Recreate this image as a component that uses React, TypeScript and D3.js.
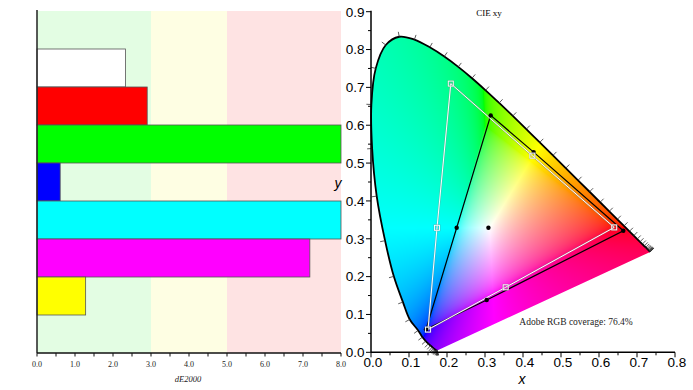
import React, { useMemo } from "react";
import * as d3 from "d3";

// ---- left panel: dE2000 per colour patch ----
const barNames = ["White", "Red", "Green", "Blue", "Cyan", "Magenta", "Yellow"];
const barValues = [2.33, 2.9, 8.0, 0.61, 8.0, 7.18, 1.28];
const barColors = ["#ffffff", "#ff0000", "#00ff00", "#0000ff", "#00ffff", "#ff00ff", "#ffff00"];
const dETicks = [0, 1, 2, 3, 4, 5, 6, 7, 8];
const zoneStarts = [0, 3, 5];
const zoneEnds = [3, 5, 8];
const zoneColors = ["#e3fde3", "#fefee3", "#fee3e3"];

// ---- right panel: CIE 1931 xy ----
const wavelengths = d3.range(380, 701, 5);
const locusX = [
  0.1741, 0.174, 0.1738, 0.1736, 0.1733, 0.173, 0.1726, 0.1721, 0.1714, 0.1703, 0.1689, 0.1669, 0.1644,
  0.1611, 0.1566, 0.151, 0.144, 0.1355, 0.1241, 0.102, 0.084, 0.06, 0.037, 0.015, 0.003, 0.001, 0.0125,
  0.0389, 0.0743, 0.1142, 0.1547, 0.1929, 0.2296, 0.2658, 0.3016, 0.3373, 0.3731, 0.4087, 0.4441, 0.4788,
  0.5125, 0.5448, 0.5752, 0.6029, 0.627, 0.6482, 0.6658, 0.6801, 0.6915, 0.7006, 0.7079, 0.714, 0.719,
  0.723, 0.726, 0.7283, 0.73, 0.7311, 0.732, 0.7327, 0.7334, 0.734, 0.7344, 0.7346, 0.7347,
];
const locusY = [
  0.005, 0.005, 0.0049, 0.0049, 0.0048, 0.0048, 0.0048, 0.0048, 0.0051, 0.0058, 0.0069, 0.0086, 0.0109,
  0.0138, 0.0177, 0.0227, 0.0297, 0.0399, 0.0578, 0.0868, 0.1327, 0.2007, 0.295, 0.4127, 0.5384, 0.6548,
  0.7502, 0.812, 0.8338, 0.8262, 0.8059, 0.7816, 0.7543, 0.7243, 0.6923, 0.6589, 0.6245, 0.5896, 0.5547,
  0.5202, 0.4866, 0.4544, 0.4242, 0.3965, 0.3725, 0.3514, 0.334, 0.3197, 0.3083, 0.2993, 0.292, 0.2859,
  0.2809, 0.277, 0.274, 0.2717, 0.27, 0.2689, 0.268, 0.2673, 0.2666, 0.266, 0.2656, 0.2654, 0.2653,
];
// order: R, Y, G, C, B, M
const refX = [0.64, 0.4246, 0.21, 0.1737, 0.15, 0.3544];
const refY = [0.33, 0.5196, 0.71, 0.329, 0.06, 0.1718];
const measX = [0.664, 0.428, 0.315, 0.2255, 0.145, 0.3045];
const measY = [0.321, 0.529, 0.626, 0.329, 0.061, 0.138];
const whitePoint = [0.309, 0.329];
const xTicks = [0, 0.1, 0.2, 0.3, 0.4, 0.5, 0.6, 0.7, 0.8];
const yTicks = [0, 0.1, 0.2, 0.3, 0.4, 0.5, 0.6, 0.7, 0.8, 0.9];

const W = 693;
const H = 390;

const serif = "'Liberation Serif', 'DejaVu Serif', serif";
const sans = "'Liberation Sans', Arial, sans-serif";

function gamma(v: number) {
  return v <= 0.0031308 ? 12.92 * v : 1.055 * Math.pow(v, 1 / 2.4) - 0.055;
}

function makeGamutImage(sx: any, sy: any, x0: number, x1: number, y0: number, y1: number) {
  const w = Math.ceil(x1 - x0);
  const h = Math.ceil(y1 - y0);
  const canvas = document.createElement("canvas");
  canvas.width = w;
  canvas.height = h;
  const ctx = canvas.getContext("2d");
  if (!ctx) return "";
  const img = ctx.createImageData(w, h);
  for (let j = 0; j < h; j++) {
    for (let i = 0; i < w; i++) {
      const cx = sx.invert(x0 + i + 0.5);
      const cy = Math.max(sy.invert(y0 + j + 0.5), 0.002);
      const X = cx / cy;
      const Z = (1 - cx - cy) / cy;
      let r = 3.2406 * X - 1.5372 - 0.4986 * Z;
      let g = -0.9689 * X + 1.8758 + 0.0415 * Z;
      let b = 0.0557 * X - 0.204 + 1.057 * Z;
      const mn = Math.min(r, g, b);
      if (mn < 0) {
        r -= mn;
        g -= mn;
        b -= mn;
      }
      const mx = Math.max(r, g, b) || 1;
      const k = (j * w + i) * 4;
      img.data[k] = Math.round(255 * gamma(r / mx));
      img.data[k + 1] = Math.round(255 * gamma(g / mx));
      img.data[k + 2] = Math.round(255 * gamma(b / mx));
      img.data[k + 3] = 255;
    }
  }
  ctx.putImageData(img, 0, 0);
  return canvas.toDataURL();
}

export default function App() {
  // left chart scales
  const bx = d3.scaleLinear().domain([0, 8]).range([37, 341]);
  const by = d3
    .scaleBand()
    .domain(["top", ...barNames, "bottom"])
    .range([11, 353])
    .padding(0);
  const minorDE = d3.range(0, 8.01, 0.5);

  // right chart scales
  const sx = d3.scaleLinear().domain([0, 0.8]).range([371, 675]);
  const sy = d3.scaleLinear().domain([0, 0.9]).range([352.3, 11.7]);
  const minorX = d3.range(0, 0.801, 0.05);
  const minorY = d3.range(0, 0.901, 0.05);

  const locusPts: [number, number][] = locusX.map((x, i) => [sx(x), sy(locusY[i])]);
  const locusLine = d3.line().curve(d3.curveCatmullRom.alpha(0.5))(locusPts) || "";
  const locusClosed = locusLine + "Z";

  const gamutImg = useMemo(() => makeGamutImage(sx, sy, 371, 676, 11, 353), []);

  const cx0 = sx(whitePoint[0]);
  const cy0 = sy(whitePoint[1]);
  const locusTicks = locusPts.map((p, i) => {
    const a = locusPts[Math.max(0, i - 1)];
    const b = locusPts[Math.min(locusPts.length - 1, i + 1)];
    let nx = b[1] - a[1];
    let ny = -(b[0] - a[0]);
    const len = Math.hypot(nx, ny) || 1;
    nx /= len;
    ny /= len;
    if (nx * (p[0] - cx0) + ny * (p[1] - cy0) < 0) {
      nx = -nx;
      ny = -ny;
    }
    return { x1: p[0], y1: p[1], x2: p[0] + nx * 5, y2: p[1] + ny * 5 };
  });

  const polyPath = (xs: number[], ys: number[]) =>
    (d3.line()(xs.map((x, i) => [sx(x), sy(ys[i])] as [number, number])) || "") + "Z";

  return (
    <svg
      width={W}
      height={H}
      viewBox={`0 0 ${W} ${H}`}
      style={{ position: "absolute", left: 0, top: 0, background: "#fff" }}
    >
      {/* ===== LEFT: dE2000 bars ===== */}
      {zoneStarts.map((s, i) => (
        <rect
          key={"z" + i}
          x={bx(s)}
          y={11}
          width={bx(zoneEnds[i]) - bx(s)}
          height={353 - 11}
          fill={zoneColors[i]}
        />
      ))}
      {barNames.map((n, i) => (
        <rect
          key={n}
          x={bx(0)}
          y={by(n)}
          width={bx(Math.min(barValues[i], 8)) - bx(0)}
          height={by.bandwidth()}
          fill={barColors[i]}
          stroke="#555"
          strokeWidth={0.8}
        />
      ))}
      <line x1={bx(0)} x2={bx(0)} y1={10} y2={353} stroke="#222" strokeWidth={1.5} />
      <line x1={bx(0)} x2={bx(8)} y1={353} y2={353} stroke="#111" strokeWidth={1.5} />
      {minorDE.map((t) => (
        <line key={"dt" + t} x1={bx(t)} x2={bx(t)} y1={353} y2={356.5} stroke="#111" strokeWidth={1} />
      ))}
      {dETicks.map((t) => (
        <text
          key={"dl" + t}
          x={bx(t)}
          y={367}
          textAnchor="middle"
          fontFamily={serif}
          fontSize={8}
          fill="#222"
        >
          {t.toFixed(1)}
        </text>
      ))}
      <text x={188} y={382} textAnchor="middle" fontFamily={serif} fontStyle="italic" fontSize={8.5} fill="#222">
        dE2000
      </text>

      {/* ===== RIGHT: CIE xy ===== */}
      <defs>
        <clipPath id="locusClip">
          <path d={locusClosed} />
        </clipPath>
      </defs>
      {gamutImg && (
        <image href={gamutImg} x={371} y={11} width={305} height={342} clipPath="url(#locusClip)" />
      )}
      <path d={locusLine} fill="none" stroke="#000" strokeWidth={1.8} />
      {locusTicks.map((t, i) => (
        <line key={"lt" + i} x1={t.x1} y1={t.y1} x2={t.x2} y2={t.y2} stroke="#333" strokeWidth={0.8} />
      ))}

      {/* measured gamut (black) */}
      <path d={polyPath(measX, measY)} fill="none" stroke="#000" strokeWidth={1.2} />
      {/* Adobe RGB reference (white) */}
      <path d={polyPath(refX, refY)} fill="none" stroke="#888" strokeWidth={2} strokeOpacity={0.5} />
      <path d={polyPath(refX, refY)} fill="none" stroke="#fff" strokeWidth={1} />
      {measX.map((x, i) => (
        <circle key={"md" + i} cx={sx(x)} cy={sy(measY[i])} r={2.2} fill="#000" />
      ))}
      <circle cx={sx(whitePoint[0])} cy={sy(whitePoint[1])} r={2.2} fill="#000" />
      {refX.map((x, i) => (
        <g key={"rs" + i}>
          <rect x={sx(x) - 2.5} y={sy(refY[i]) - 2.5} width={5} height={5} fill="none" stroke="#777" strokeWidth={1.8} strokeOpacity={0.5} />
          <rect x={sx(x) - 2.5} y={sy(refY[i]) - 2.5} width={5} height={5} fill="none" stroke="#fff" strokeWidth={0.9} />
        </g>
      ))}

      {/* axes */}
      <line x1={sx(0)} x2={sx(0)} y1={sy(0.9) - 1} y2={sy(0)} stroke="#000" strokeWidth={1.5} />
      <line x1={sx(0)} x2={sx(0.8)} y1={sy(0)} y2={sy(0)} stroke="#000" strokeWidth={1.5} />
      {minorX.map((t, i) => (
        <line
          key={"xt" + i}
          x1={sx(t)}
          x2={sx(t)}
          y1={sy(0)}
          y2={sy(0) + (i % 2 === 0 ? 5 : 3)}
          stroke="#000"
          strokeWidth={1}
        />
      ))}
      {minorY.map((t, i) => (
        <line
          key={"yt" + i}
          x1={sx(0)}
          x2={sx(0) - (i % 2 === 0 ? 5 : 3)}
          y1={sy(t)}
          y2={sy(t)}
          stroke="#000"
          strokeWidth={1}
        />
      ))}
      {xTicks.map((t) => (
        <text key={"xl" + t} x={sx(t) + 2} y={367} textAnchor="middle" fontFamily={sans} fontSize={13.5} fill="#000">
          {t.toFixed(1)}
        </text>
      ))}
      {yTicks.map((t) => (
        <text
          key={"yl" + t}
          x={364.5}
          y={sy(t) + 4.8}
          textAnchor="end"
          fontFamily={sans}
          fontSize={13.5}
          fill="#000"
        >
          {t.toFixed(1)}
        </text>
      ))}
      <text x={522} y={384} textAnchor="middle" fontFamily={sans} fontStyle="italic" fontSize={14}>
        x
      </text>
      <text x={338} y={188} textAnchor="middle" fontFamily={sans} fontStyle="italic" fontSize={14}>
        y
      </text>
      <text x={489} y={16} textAnchor="middle" fontFamily={serif} fontSize={9}>
        CIE xy
      </text>
      <text x={576} y={325} textAnchor="middle" fontFamily={serif} fontSize={9.5} fill="#222">
        Adobe RGB coverage: 76.4%
      </text>
    </svg>
  );
}
